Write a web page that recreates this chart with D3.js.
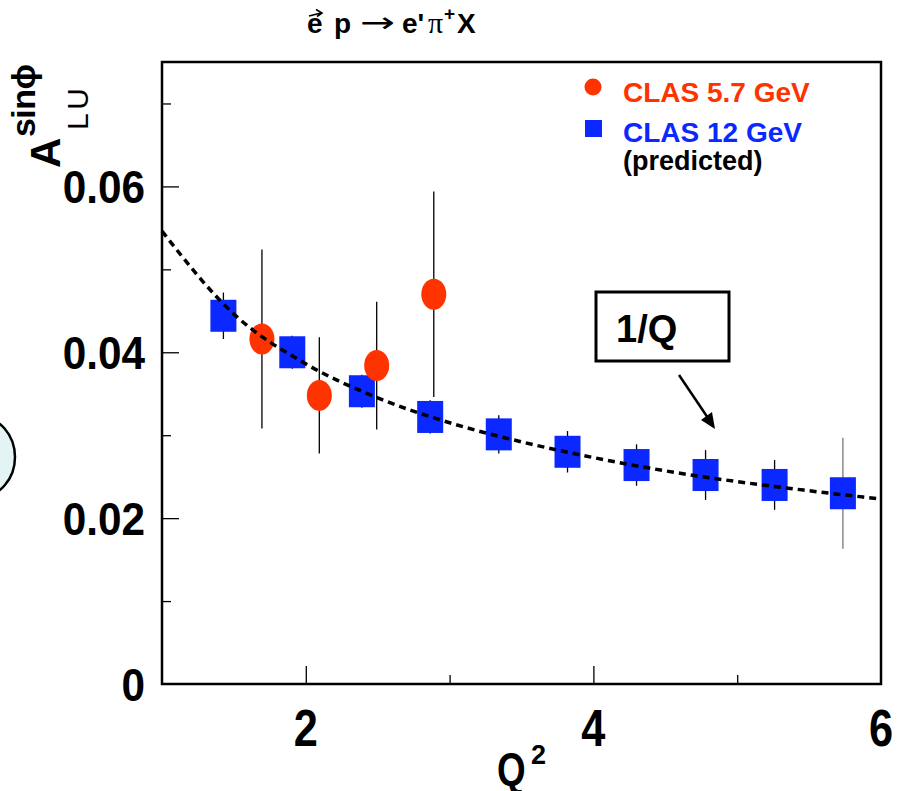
<!DOCTYPE html>
<html>
<head>
<meta charset="utf-8">
<script src="https://cdn.jsdelivr.net/npm/d3@7"></script>
<style>
  body { margin: 0; background: #fff; }
  svg { display: block; font-family: "Liberation Sans", Arial, sans-serif; }
</style>
</head>
<body>
<svg id="chart" width="899" height="791"></svg>
<script>
// CLAS 5.7 GeV (measured)
const redQ2 = [1.695, 2.094, 2.493, 2.89];
const redA = [0.0416, 0.0348, 0.0384, 0.0470];
const redErr = [0.0108, 0.0070, 0.0077, 0.0124];

// CLAS 12 GeV (predicted)
const blueQ2 = [1.427, 1.906, 2.39, 2.865, 3.342, 3.82, 4.30, 4.78, 5.26, 5.735];
const blueA = [0.0444, 0.0400, 0.0353, 0.0322, 0.0301, 0.0280, 0.0264, 0.0252, 0.0240, 0.0230];
const blueErr = [0.0028, 0.0020, 0.0020, 0.0020, 0.0023, 0.0025, 0.0025, 0.0030, 0.0030, 0.0067];

// dashed 1/Q curve
const curveQ2 = [1, 1.5, 2, 2.5, 3, 3.5, 4, 4.5, 5, 5.5, 6];
const curveA = [0.0546, 0.0446, 0.0386, 0.0345, 0.0315, 0.0292, 0.0273, 0.0257, 0.0244, 0.0233, 0.0223];

const xMajor = [2, 4, 6];
const xMinor = [3, 5];
const yMajor = [0, 0.02, 0.04, 0.06];
const yMinor = [0.01, 0.03, 0.05, 0.07];

const RED = "#ff3300";
const BLUE = "#0a28ff";

const plot = { left: 162, right: 881, top: 62, bottom: 684 };

const svg = d3.select("#chart");

const x = d3.scaleLinear().domain([1, 6]).range([plot.left, plot.right]);
const y = d3.scaleLinear().domain([0, 0.075]).range([plot.bottom, plot.top]);

// blob peeking in at left edge
svg.append("ellipse")
  .attr("cx", -20).attr("cy", 457).attr("rx", 35).attr("ry", 40)
  .attr("fill", "#e4f4f4").attr("stroke", "#000").attr("stroke-width", 2.5);

// ticks (inside the frame)
function tickAxis(axis, ticks, size, transform) {
  svg.append("g")
    .attr("transform", transform)
    .call(axis.tickValues(ticks).tickSizeInner(-size).tickSizeOuter(0).tickFormat(""))
    .call(g => g.select(".domain").remove())
    .call(g => g.selectAll(".tick line").attr("stroke", "#000").attr("stroke-width", 1.3));
}
tickAxis(d3.axisLeft(y), yMajor.filter(v => v > 0), 17, `translate(${plot.left},0)`);
tickAxis(d3.axisLeft(y), yMinor, 9, `translate(${plot.left},0)`);
tickAxis(d3.axisBottom(x), xMajor.filter(v => v < 6), 18, `translate(0,${plot.bottom})`);
tickAxis(d3.axisBottom(x), xMinor, 9, `translate(0,${plot.bottom})`);

// frame
svg.append("rect")
  .attr("x", plot.left).attr("y", plot.top)
  .attr("width", plot.right - plot.left).attr("height", plot.bottom - plot.top)
  .attr("fill", "none").attr("stroke", "#000").attr("stroke-width", 2.5);

// tick labels
svg.selectAll(".ylab")
  .data(yMajor)
  .enter()
  .append("text")
  .attr("class", "ylab")
  .attr("transform", d => `translate(145,${y(d) + 17}) scale(0.9,1)`)
  .attr("text-anchor", "end")
  .attr("font-size", 47)
  .attr("font-weight", "bold")
  .text(d => d === 0 ? "0" : d3.format(".2f")(d));

svg.selectAll(".xlab")
  .data(xMajor)
  .enter()
  .append("text")
  .attr("class", "xlab")
  .attr("transform", d => `translate(${x(d)},746) scale(0.85,1)`)
  .attr("text-anchor", "middle")
  .attr("font-size", 51)
  .attr("font-weight", "bold")
  .text(d => d);

// x title Q^2
svg.append("text")
  .attr("transform", "translate(497,785) scale(0.8,1)")
  .attr("font-size", 46).attr("font-weight", "bold").text("Q");
svg.append("text")
  .attr("x", 531).attr("y", 764)
  .attr("font-size", 27).attr("font-weight", "bold").text("2");

// y title A^{sin phi}_{LU}
const yt = svg.append("g").attr("transform", "translate(60,168) rotate(-90)");
yt.append("text").attr("font-size", 42).attr("font-weight", "bold").text("A");
yt.append("text").attr("x", 31).attr("y", -25).attr("font-size", 34)
  .attr("textLength", 73).attr("lengthAdjust", "spacing")
  .attr("font-weight", "bold").text("sinϕ");
yt.append("text").attr("x", 38).attr("y", 28).attr("font-size", 30)
  .attr("textLength", 42).attr("lengthAdjust", "spacing").text("LU");

// title
const tt = svg.append("text").attr("y", 33).attr("font-size", 28).attr("font-weight", "bold");
tt.append("tspan").attr("x", 307).text("e");
tt.append("tspan").attr("x", 334).text("p");
tt.append("tspan").attr("x", 360).attr("y", 32).attr("font-weight", "normal")
  .attr("font-family", "DejaVu Sans").attr("textLength", 35).attr("lengthAdjust", "spacingAndGlyphs").text("→");
tt.append("tspan").attr("x", 402).attr("y", 33).text("e'");
tt.append("tspan").attr("x", 428).attr("font-family", "Liberation Serif").attr("font-weight", "normal").attr("font-size", 30).text("π");
tt.append("tspan").attr("x", 444).attr("y", 20).attr("font-size", 19).text("+");
tt.append("tspan").attr("x", 457).attr("y", 33).text("X");
svg.append("path")
  .attr("d", "M309,16 L321,13 M316,9.5 L322,13 L317,16.5")
  .attr("fill", "none").attr("stroke", "#000").attr("stroke-width", 1.6);

// dashed 1/Q curve
const curveData = curveQ2.map((q, i) => ({ q, a: curveA[i] }));
const curveLine = d3.line().x(d => x(d.q)).y(d => y(d.a)).curve(d3.curveMonotoneX);

// error bars
const red = redQ2.map((q, i) => ({ q, a: redA[i], e: redErr[i] }));
const blue = blueQ2.map((q, i) => ({ q, a: blueA[i], e: blueErr[i] }));

svg.selectAll(".err")
  .data(red.concat(blue))
  .enter()
  .append("line")
  .attr("class", "err")
  .attr("x1", d => x(d.q)).attr("x2", d => x(d.q))
  .attr("y1", d => y(d.a + d.e)).attr("y2", d => y(d.a - d.e))
  .attr("stroke", (d, i) => i === red.length + blue.length - 1 ? "#777" : "#000")
  .attr("stroke-width", 1.3);

// markers
svg.selectAll(".sq")
  .data(blue)
  .enter()
  .append("rect")
  .attr("class", "sq")
  .attr("x", d => x(d.q) - 13).attr("y", d => y(d.a) - 16)
  .attr("width", 26).attr("height", 32)
  .attr("fill", BLUE);

svg.selectAll(".dot")
  .data(red)
  .enter()
  .append("ellipse")
  .attr("class", "dot")
  .attr("cx", d => x(d.q)).attr("cy", d => y(d.a))
  .attr("rx", 12.5).attr("ry", 15.5)
  .attr("fill", RED);

// dashes drawn over the markers, like the reference
svg.append("path")
  .datum(curveData)
  .attr("fill", "none")
  .attr("stroke", "#000")
  .attr("stroke-width", 3.5)
  .attr("stroke-dasharray", "7,5")
  .attr("d", curveLine);

// legend
svg.append("circle").attr("cx", 593).attr("cy", 87).attr("r", 8.5).attr("fill", RED);
svg.append("rect").attr("x", 585).attr("y", 120).attr("width", 17).attr("height", 17).attr("fill", BLUE);
svg.append("text").attr("x", 623).attr("y", 102).attr("font-size", 28).attr("font-weight", "bold")
  .attr("fill", RED).text("CLAS 5.7 GeV");
svg.append("text").attr("x", 623).attr("y", 142).attr("font-size", 28).attr("font-weight", "bold")
  .attr("fill", BLUE).text("CLAS 12 GeV");
svg.append("text").attr("x", 623).attr("y", 170).attr("font-size", 27).attr("font-weight", "bold")
  .attr("fill", "#000").text("(predicted)");

// 1/Q annotation
svg.append("rect")
  .attr("x", 596).attr("y", 292).attr("width", 133).attr("height", 69)
  .attr("fill", "#fff").attr("stroke", "#000").attr("stroke-width", 3);
svg.append("text").attr("x", 616).attr("y", 342).attr("font-size", 38).attr("font-weight", "bold").text("1/Q");
svg.append("line")
  .attr("x1", 679).attr("y1", 375).attr("x2", 708).attr("y2", 418)
  .attr("stroke", "#000").attr("stroke-width", 2.5);
svg.append("path")
  .attr("d", "M715,429 L701,420 L712,412 Z")
  .attr("fill", "#000");
</script>
</body>
</html>
